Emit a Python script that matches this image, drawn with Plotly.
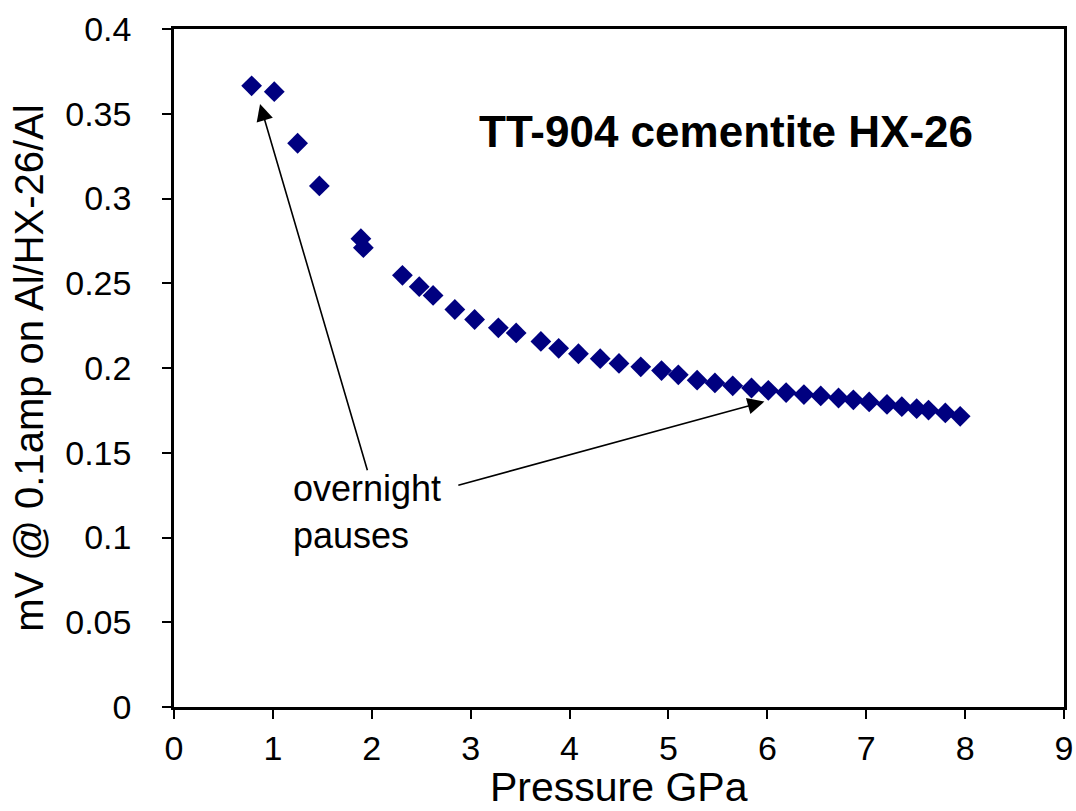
import plotly.graph_objects as go

# Data
pressure_gpa = [0.785, 1.014, 1.25, 1.47, 1.89, 1.915, 2.31, 2.48, 2.62, 2.84, 3.04, 3.28,
                3.46, 3.71, 3.89, 4.09, 4.31, 4.50, 4.72, 4.93, 5.10, 5.29, 5.47, 5.65,
                5.84, 6.01, 6.19, 6.37, 6.54, 6.72, 6.87, 7.03, 7.21, 7.36, 7.51, 7.63,
                7.80, 7.95]
mv_signal = [0.3665, 0.3630, 0.3326, 0.3074, 0.2763, 0.2710, 0.2547, 0.2480, 0.2428,
             0.2345, 0.2286, 0.2237, 0.2207, 0.2157, 0.2116, 0.2084, 0.2055, 0.2027,
             0.2007, 0.1985, 0.1960, 0.1928, 0.1912, 0.1895, 0.1882, 0.1868, 0.1855,
             0.1843, 0.1835, 0.1823, 0.1812, 0.1800, 0.1785, 0.1772, 0.1760, 0.1752,
             0.1735, 0.1715]

x_ticks = [0, 1, 2, 3, 4, 5, 6, 7, 8, 9]
y_ticks = [0, 0.05, 0.1, 0.15, 0.2, 0.25, 0.3, 0.35, 0.4]
y_tick_labels = ["0", "0.05", "0.1", "0.15", "0.2", "0.25", "0.3", "0.35", "0.4"]

FONT = "Liberation Sans, Arial, sans-serif"

fig = go.Figure()
fig.add_trace(go.Scatter(
    x=pressure_gpa, y=mv_signal, mode="markers",
    marker=dict(symbol="diamond", size=16, color="#000080", line=dict(width=0)),
    showlegend=False,
))

# Chart label
fig.add_annotation(x=5.58, y=0.3397, xref="x", yref="y", text="<b>TT-904 cementite HX-26</b>",
                   showarrow=False, font=dict(family=FONT, size=44, color="black"))

# Arrows for "overnight pauses"
fig.add_annotation(x=0.87, y=0.3557, ax=1.96, ay=0.1388, xref="x", yref="y", axref="x", ayref="y",
                   text="", showarrow=True, arrowhead=2, arrowsize=2.1, arrowwidth=1.6,
                   arrowcolor="black", standoff=0, startstandoff=0)
fig.add_annotation(x=5.97, y=0.1802, ax=2.86, ay=0.1306, xref="x", yref="y", axref="x", ayref="y",
                   text="", showarrow=True, arrowhead=2, arrowsize=2.1, arrowwidth=1.6,
                   arrowcolor="black", standoff=0, startstandoff=0)
fig.add_annotation(x=1.18, y=0.115, xref="x", yref="y", text="overnight<br>pauses",
                   showarrow=False, xanchor="left", yanchor="middle", align="left",
                   font=dict(family=FONT, size=36, color="black"))

# X axis title (placed as annotation so it can sit low, like the reference)
fig.add_annotation(x=0.5, y=-0.1534, xref="paper", yref="paper", text="Pressure GPa",
                   showarrow=False, xanchor="center", yanchor="bottom", borderpad=0,
                   font=dict(family=FONT, size=41, color="black"))

fig.update_layout(
    width=1076, height=811,
    margin=dict(l=174, r=12, t=29, b=104, autoexpand=False),
    paper_bgcolor="white", plot_bgcolor="white",
    font=dict(family=FONT, color="black"),
    xaxis=dict(
        range=[0, 9], tickvals=x_ticks, ticktext=[str(v) for v in x_ticks],
        showgrid=False, zeroline=False, showline=True, linecolor="black", linewidth=2.5,
        mirror=True, ticks="outside", ticklen=9, tickwidth=1.5, tickcolor="black",
        tickfont=dict(family=FONT, size=34), ticklabelstandoff=0,
    ),
    yaxis=dict(
        range=[0, 0.4], tickvals=y_ticks, ticktext=y_tick_labels,
        showgrid=False, zeroline=False, showline=True, linecolor="black", linewidth=2.5,
        mirror=True, ticks="outside", ticklen=9, tickwidth=1.5, tickcolor="black",
        tickfont=dict(family=FONT, size=34), ticklabelstandoff=24,
        title=dict(text="mV @ 0.1amp on Al/HX-26/Al", font=dict(family=FONT, size=40), standoff=10),
    ),
)

fig.write_html("out.html")
